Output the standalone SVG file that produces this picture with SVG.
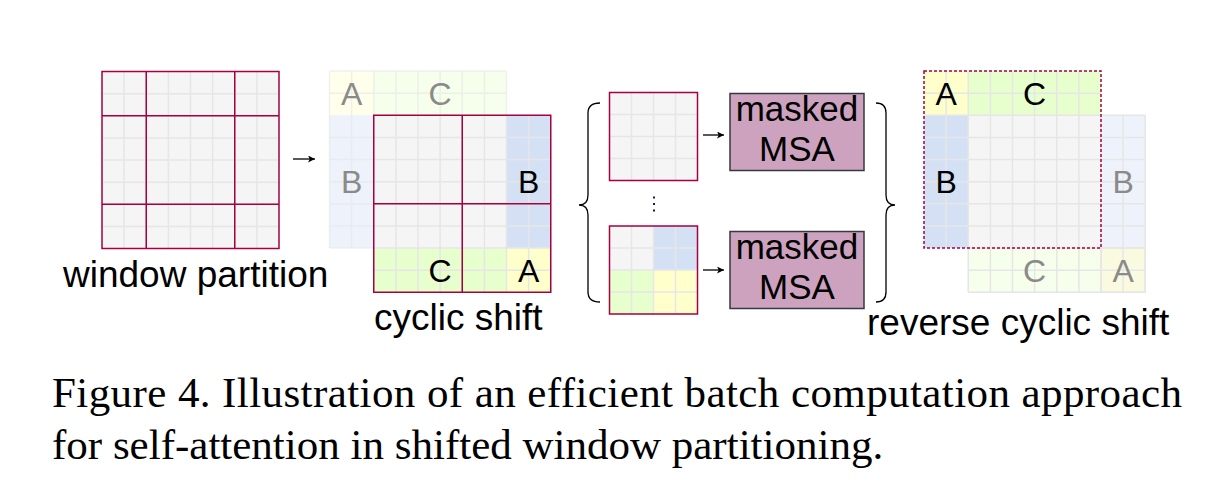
<svg xmlns="http://www.w3.org/2000/svg" width="1212" height="498" viewBox="0 0 1212 498">
<style>
.bg{fill:#f5f5f5}
.gl{stroke:#e6e6e6;stroke-width:1.5;fill:none}
.win{stroke:#a50040;stroke-width:1.5;fill:none}
.blue{fill:#d4e1f5}
.green{fill:#e6ffcc}
.yellow{fill:#ffffcc}
.fblue{fill:#edf2fb}
.fgreen{fill:#f5ffeb}
.fyellow{fill:#ffffeb}
.lbl{font-family:"Liberation Sans",Arial,sans-serif;font-size:32px;text-anchor:middle;fill:#000}
.flbl{fill:#8a8a8a}
.cap{font-family:"Liberation Sans",Arial,sans-serif;font-size:37px;fill:#000}
.msa{fill:#cda2be;stroke:#36393d;stroke-width:1.5}
.msat{font-family:"Liberation Sans",Arial,sans-serif;font-size:35px;text-anchor:middle;fill:#000}
.fig{font-family:"Liberation Serif","Times New Roman",serif;font-size:43px;fill:#000}
.conn{stroke:#000;stroke-width:1.3;fill:none}
</style>
<defs>
<marker id="ah" viewBox="0 0 10 10" refX="10" refY="5" markerWidth="7" markerHeight="7" markerUnits="userSpaceOnUse" orient="auto">
<path d="M0,0 L10,5 L0,10 L2.5,5 Z" fill="#000"/>
</marker>
</defs>

<g id="window-partition">
<rect class="bg" x="102" y="71.5" width="177" height="177"/>
<path class="gl" d="M124.125,71.5V248.5M146.25,71.5V248.5M168.375,71.5V248.5M190.5,71.5V248.5M212.625,71.5V248.5M234.75,71.5V248.5M256.875,71.5V248.5M102,93.625H279M102,115.75H279M102,137.875H279M102,160H279M102,182.125H279M102,204.25H279M102,226.375H279"/>
<rect class="win" x="102" y="71.5" width="177" height="177"/>
<path class="win" d="M146.25,71.5V248.5M234.75,71.5V248.5M102,115.75H279M102,204.25H279"/>
<text class="cap" x="63" y="287">window partition</text>
</g>

<g id="cyclic-shift">
<rect class="fyellow" x="329.5" y="71" width="44.25" height="44.25"/>
<rect class="fgreen" x="373.75" y="71" width="132.75" height="44.25"/>
<rect class="fblue" x="329.5" y="115.25" width="44.25" height="132.75"/>
<path class="gl" d="M351.625,71V115.25M373.75,71V115.25M395.875,71V115.25M418,71V115.25M440.125,71V115.25M462.25,71V115.25M484.375,71V115.25M506.5,71V115.25M329.5,93.125H506.5M329.5,71H506.5M351.625,115.25V248M329.5,137.375H373.75M329.5,159.5H373.75M329.5,181.625H373.75M329.5,203.75H373.75M329.5,225.875H373.75M329.5,248H373.75M329.5,71V248" opacity="0.6"/>
<text class="lbl flbl" x="351.6" y="104.6">A</text>
<text class="lbl flbl" x="440.1" y="104.6">C</text>
<text class="lbl flbl" x="351.6" y="193.1">B</text>
<rect class="bg" x="373.75" y="115.25" width="177" height="177"/>
<rect class="blue" x="506.5" y="115.25" width="44.25" height="132.75"/>
<rect class="green" x="373.75" y="248" width="132.75" height="44.25"/>
<rect class="yellow" x="506.5" y="248" width="44.25" height="44.25"/>
<path class="gl" d="M395.875,115.25V292.25M418,115.25V292.25M440.125,115.25V292.25M462.25,115.25V292.25M484.375,115.25V292.25M506.5,115.25V292.25M528.625,115.25V292.25M373.75,137.375H550.75M373.75,159.5H550.75M373.75,181.625H550.75M373.75,203.75H550.75M373.75,225.875H550.75M373.75,248H550.75M373.75,270.125H550.75"/>
<rect class="win" x="373.75" y="115.25" width="177" height="177"/>
<path class="win" d="M462.25,115.25V292.25M373.75,203.75H550.75"/>
<text class="lbl" x="528.6" y="193.1">B</text>
<text class="lbl" x="440.1" y="281.6">C</text>
<text class="lbl" x="528.6" y="281.6">A</text>
<text class="cap" x="374" y="330">cyclic shift</text>
</g>

<g id="window-top">
<rect class="bg" x="609.5" y="92.5" width="88" height="88"/>
<path class="gl" d="M631.5,92.5V180.5M653.5,92.5V180.5M675.5,92.5V180.5M609.5,114.5H697.5M609.5,136.5H697.5M609.5,158.5H697.5"/>
<rect class="win" x="609.5" y="92.5" width="88" height="88"/>
</g>

<g id="ellipsis" fill="#1a1a4a">
<rect x="653" y="196.5" width="2" height="2"/>
<rect x="653" y="203" width="2" height="2"/>
<rect x="653" y="209.5" width="2" height="2"/>
</g>

<g id="window-bottom">
<rect class="bg" x="609.5" y="226" width="88" height="88"/>
<rect class="blue" x="653.5" y="226" width="44" height="44"/>
<rect class="green" x="609.5" y="270" width="44" height="44"/>
<rect class="yellow" x="653.5" y="270" width="44" height="44"/>
<path class="gl" d="M631.5,226V314M653.5,226V314M675.5,226V314M609.5,248H697.5M609.5,270H697.5M609.5,292H697.5"/>
<rect class="win" x="609.5" y="226" width="88" height="88"/>
</g>

<g id="msa-top">
<rect class="msa" x="730" y="93.5" width="134" height="77"/>
<text class="msat" x="797" y="121">masked</text>
<text class="msat" x="797" y="161">MSA</text>
</g>

<g id="msa-bottom">
<rect class="msa" x="730" y="231.5" width="134" height="77"/>
<text class="msat" x="797" y="259">masked</text>
<text class="msat" x="797" y="299">MSA</text>
</g>

<g id="reverse-cyclic-shift">
<rect class="bg" x="924" y="71" width="177" height="177"/>
<rect class="yellow" x="924" y="71" width="44.25" height="44.25"/>
<rect class="green" x="968.25" y="71" width="132.75" height="44.25"/>
<rect class="blue" x="924" y="115.25" width="44.25" height="132.75"/>
<rect class="fblue" x="1101" y="115.25" width="44.25" height="132.75"/>
<rect class="fgreen" x="968.25" y="248" width="132.75" height="44.25"/>
<rect x="1101" y="248" width="44.25" height="44.25" fill="#fafae0" stroke="#e9e9d2" stroke-width="1.5"/>
<path class="gl" d="M946.125,71V248M968.25,71V292.25M990.375,71V292.25M1012.5,71V292.25M1034.625,71V292.25M1056.75,71V292.25M1078.875,71V292.25M1101,115.25V292.25M1123.125,115.25V292.25M1145.25,115.25V292.25M924,93.125H1101M924,115.25H1145.25M924,137.375H1145.25M924,159.5H1145.25M924,181.625H1145.25M924,203.75H1145.25M924,225.875H1145.25M968.25,248H1145.25M968.25,270.125H1145.25M968.25,292.25H1145.25"/>
<rect x="924" y="71" width="177" height="177" fill="none" stroke="#a50040" stroke-width="1.5" stroke-dasharray="3 2"/>
<text class="lbl" x="946.1" y="104.6">A</text>
<text class="lbl" x="1034.6" y="104.6">C</text>
<text class="lbl" x="946.1" y="193.1">B</text>
<text class="lbl flbl" x="1123.1" y="193.1">B</text>
<text class="lbl flbl" x="1034.6" y="281.6">C</text>
<text class="lbl flbl" x="1123.1" y="281.6">A</text>
<text class="cap" x="867" y="335">reverse cyclic shift</text>
</g>

<g id="connectors">
<line class="conn" x1="293" y1="159" x2="315" y2="159" marker-end="url(#ah)" stroke="#333"/>
<line class="conn" x1="703" y1="135" x2="724" y2="135" marker-end="url(#ah)"/>
<line class="conn" x1="703" y1="270" x2="724" y2="270" marker-end="url(#ah)"/>
<path class="conn" d="M600,103 Q588,103 588,113 V195 Q588,205 579,205 Q588,205 588,215 V292 Q588,302 600,302"/>
<path class="conn" d="M876,103 Q886,103 886,113 V195 Q886,205 895,205 Q886,205 886,215 V292 Q886,302 876,302"/>
</g>

<g id="caption">
<text class="fig" x="52" y="407" textLength="1130" lengthAdjust="spacing">Figure 4. Illustration of an efficient batch computation approach</text>
<text class="fig" x="52" y="459">for self-attention in shifted window partitioning.</text>
</g>
</svg>
